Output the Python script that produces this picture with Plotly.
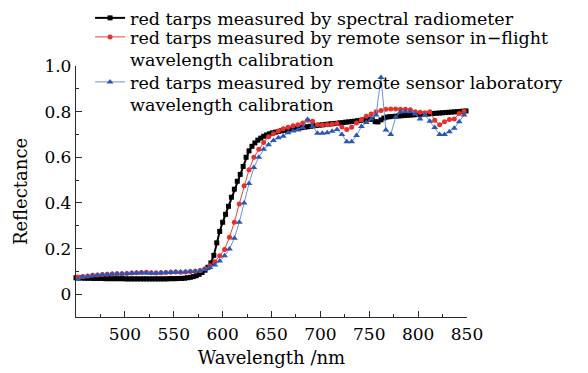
import plotly.graph_objects as go

# Spectral radiometer: 3 nm sampling from 450 nm
radiometer_wl = list(range(450, 850, 3))
radiometer_refl = [
    0.072, 0.071, 0.071, 0.070, 0.070, 0.070, 0.069, 0.069, 0.069, 0.069,
    0.068, 0.068, 0.068, 0.068, 0.068, 0.068, 0.068, 0.067, 0.067, 0.067,
    0.067, 0.067, 0.067, 0.067, 0.067, 0.067, 0.067, 0.067, 0.067, 0.067,
    0.067, 0.067, 0.068, 0.068, 0.068, 0.069, 0.069, 0.070,
    0.072, 0.074, 0.077, 0.081, 0.087, 0.095, 0.105, 0.118, 0.137, 0.170,
    0.225, 0.275, 0.315, 0.350, 0.385, 0.425, 0.460, 0.495, 0.525, 0.560,
    0.600, 0.628, 0.648, 0.663, 0.675, 0.684, 0.692, 0.698, 0.703, 0.707,
    0.710, 0.713, 0.716, 0.718, 0.720, 0.722, 0.724, 0.726, 0.728, 0.730,
    0.732, 0.734, 0.736, 0.738, 0.739, 0.741, 0.742, 0.744, 0.745, 0.747,
    0.748, 0.749, 0.751, 0.752, 0.754, 0.755, 0.757, 0.758, 0.760, 0.762,
    0.764, 0.765, 0.767, 0.767, 0.756, 0.755, 0.764, 0.772, 0.776, 0.778,
    0.779, 0.780, 0.781, 0.782, 0.783, 0.784, 0.785, 0.786, 0.787, 0.788,
    0.789, 0.790, 0.790, 0.791, 0.792, 0.793, 0.794, 0.795, 0.796, 0.797,
    0.798, 0.799, 0.800, 0.801, 0.802, 0.803,
]

# Remote sensor bands (about 5 nm apart)
sensor_wl = list(range(452, 850, 5))
inflight_refl = [
    0.075, 0.078, 0.080, 0.083, 0.084, 0.086, 0.087, 0.088, 0.090, 0.090,
    0.091, 0.093, 0.094, 0.095, 0.096, 0.094, 0.093, 0.094, 0.095, 0.096,
    0.097, 0.096, 0.097, 0.099, 0.100, 0.104, 0.112, 0.125, 0.142, 0.168,
    0.196, 0.250, 0.315, 0.395, 0.475, 0.545, 0.600, 0.635, 0.665, 0.690,
    0.703, 0.715, 0.725, 0.732, 0.738, 0.743, 0.750, 0.762, 0.758, 0.742,
    0.741, 0.742, 0.745, 0.748, 0.733, 0.722, 0.732, 0.750, 0.764, 0.780,
    0.790, 0.800, 0.805, 0.810, 0.812, 0.812, 0.810, 0.810, 0.808, 0.800,
    0.797, 0.795, 0.800, 0.762, 0.742, 0.756, 0.766, 0.768, 0.792, 0.802,
]
laboratory_refl = [
    0.065, 0.075, 0.078, 0.082, 0.083, 0.085, 0.086, 0.088, 0.089, 0.090,
    0.091, 0.092, 0.093, 0.094, 0.093, 0.092, 0.093, 0.094, 0.095, 0.096,
    0.097, 0.097, 0.098, 0.099, 0.100, 0.103, 0.108, 0.117, 0.128, 0.145,
    0.168, 0.198, 0.245, 0.315, 0.400, 0.485, 0.555, 0.600, 0.635, 0.655,
    0.673, 0.686, 0.692, 0.708, 0.715, 0.720, 0.730, 0.766, 0.735, 0.705,
    0.705, 0.708, 0.714, 0.722, 0.700, 0.668, 0.668, 0.695, 0.735, 0.752,
    0.768, 0.785, 0.950, 0.720, 0.700, 0.775, 0.800, 0.800, 0.800, 0.790,
    0.768, 0.785, 0.758, 0.730, 0.700, 0.700, 0.712, 0.727, 0.756, 0.785,
]

assert len(radiometer_wl) == len(radiometer_refl)
assert len(sensor_wl) == len(inflight_refl) == len(laboratory_refl)

x_ticks = [500, 550, 600, 650, 700, 750, 800, 850]
y_ticks = [0, 0.2, 0.4, 0.6, 0.8, 1.0]
y_tick_text = ["0", "0.2", "0.4", "0.6", "0.8", "1.0"]

SERIF = "DejaVu Serif"
AXIS_COLOR = "#2a2a2a"
FIG_W, FIG_H = 588, 373
LEGEND_SIZE = 17.5

fig = go.Figure()
fig.add_trace(go.Scatter(
    x=radiometer_wl, y=radiometer_refl, mode="lines+markers",
    name="red tarps measured by spectral radiometer",
    line=dict(color="black", width=2),
    marker=dict(symbol="square", size=5, color="black"),
    cliponaxis=False, legend="legend",
))
fig.add_trace(go.Scatter(
    x=sensor_wl, y=inflight_refl, mode="lines+markers",
    name="red tarps measured by remote sensor in−flight<br>wavelength calibration",
    line=dict(color="#e8403a", width=1),
    marker=dict(symbol="circle", size=5, color="#e8302a"),
    cliponaxis=False, legend="legend2",
))
fig.add_trace(go.Scatter(
    x=sensor_wl, y=laboratory_refl, mode="lines+markers",
    name="red tarps measured by remote sensor laboratory<br>wavelength calibration",
    line=dict(color="#6f90d8", width=1),
    marker=dict(symbol="triangle-up", size=6, color="#2a56b8"),
    cliponaxis=False, legend="legend3",
))

axis_common = dict(
    showline=True, linecolor=AXIS_COLOR, linewidth=1.3,
    ticks="inside", ticklen=6, tickwidth=1.2, tickcolor=AXIS_COLOR,
    showgrid=False, zeroline=False, mirror=False,
    tickfont=dict(family=SERIF, size=17, color="black"),
)

fig.update_xaxes(
    range=[450, 850], tickvals=x_ticks, ticklabelstandoff=1,
    minor=dict(ticks="inside", ticklen=3, tickwidth=1, tickcolor=AXIS_COLOR, dtick=25, tick0=0),
    title=dict(text="Wavelength /nm", font=dict(family=SERIF, size=18, color="black"), standoff=8),
    **axis_common,
)
fig.update_yaxes(
    range=[-0.1, 1.0], tickvals=y_ticks, ticktext=y_tick_text,
    minor=dict(ticks="inside", ticklen=3, tickwidth=1, tickcolor=AXIS_COLOR, dtick=0.1, tick0=0),
    title=dict(text="Reflectance", font=dict(family=SERIF, size=18, color="black"), standoff=12),
    **axis_common,
)


def legend_box(top_px):
    # one stacked legend block whose top edge sits top_px below the figure top
    return dict(
        x=0.036, xanchor="left", y=1 - top_px / FIG_H, yanchor="top", yref="container",
        bgcolor="rgba(0,0,0,0)", borderwidth=0,
        font=dict(family=SERIF, size=LEGEND_SIZE, color="black"),
        valign="top", itemwidth=30, tracegroupgap=0,
    )


fig.update_layout(
    width=FIG_W, height=FIG_H,
    margin=dict(l=76, r=121, t=66, b=56, autoexpand=False),
    paper_bgcolor="white", plot_bgcolor="white",
    showlegend=True,
    legend=legend_box(0),
    legend2=legend_box(19),
    legend3=legend_box(64),
)

fig.write_html("out.html")
